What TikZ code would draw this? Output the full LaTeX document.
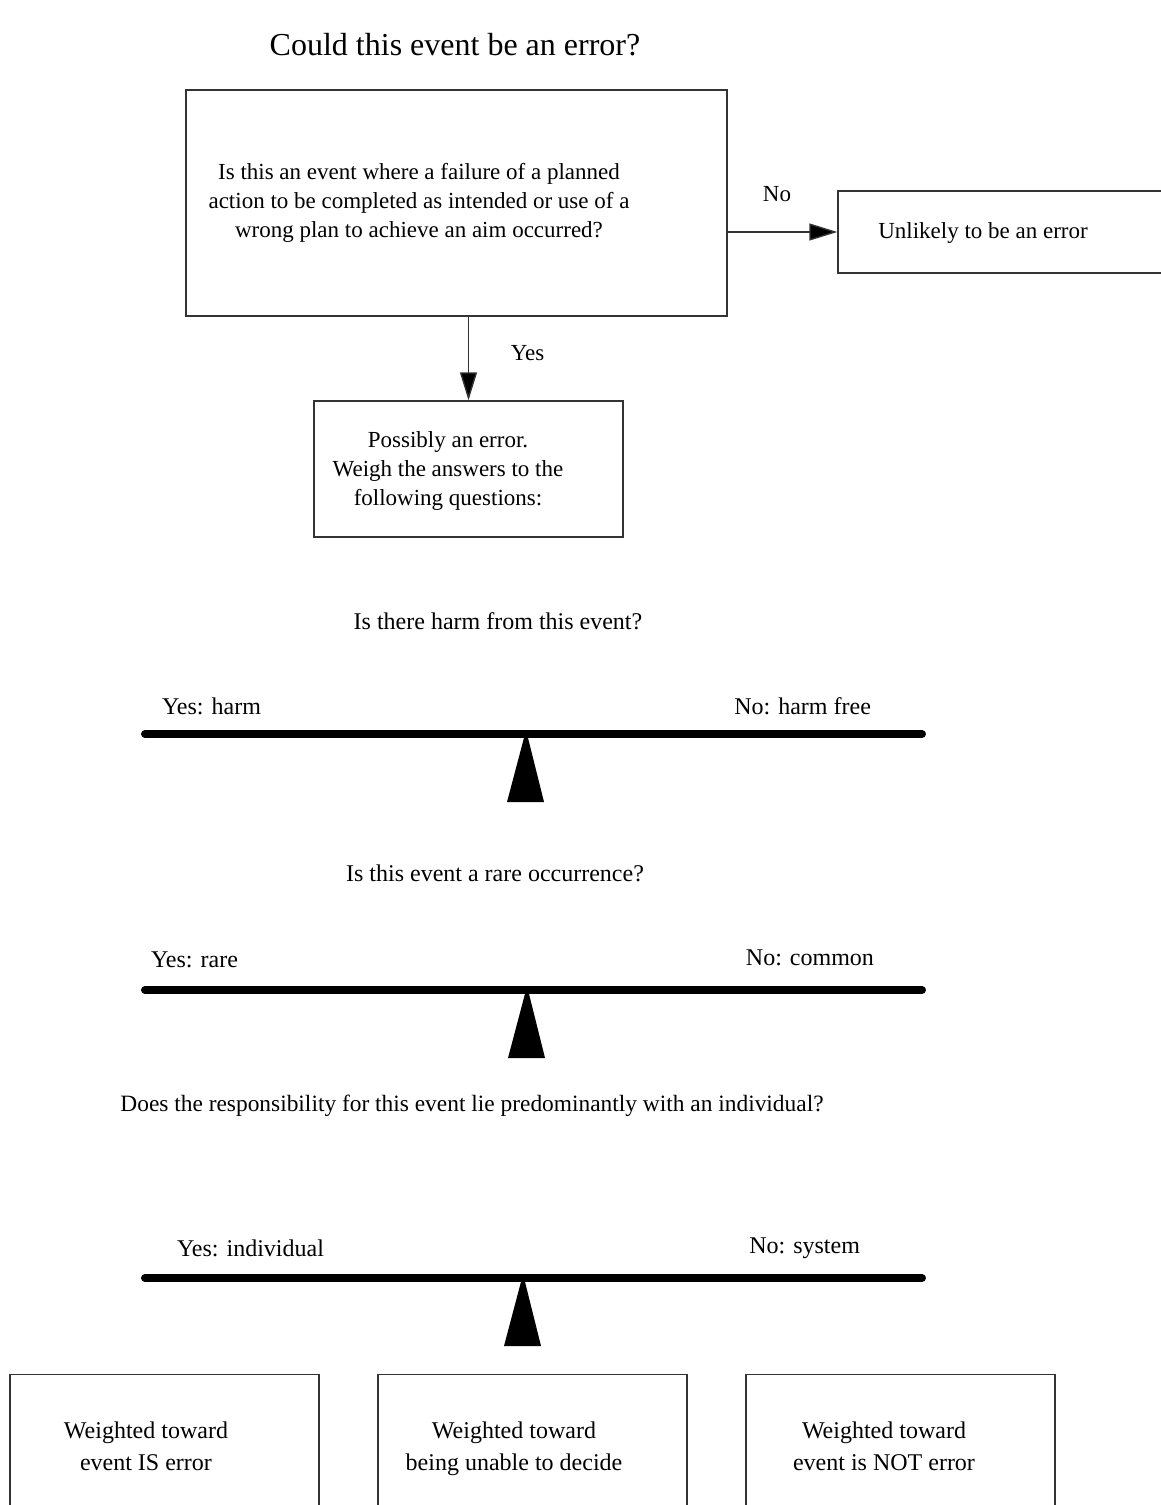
\documentclass[tikz,border=0pt]{standalone}
\usepackage{fontspec}
\setmainfont{Liberation Serif}
\usetikzlibrary{arrows.meta, positioning}

\begin{document}
\begin{tikzpicture}[
    x=0.5pt, y=-0.5pt,
    box/.style={rectangle, draw=black!80, line width=0.7pt, inner sep=0pt},
    boxtext/.style={align=center, font=\fontsize{11.5}{14.5}\selectfont},
    question/.style={font=\fontsize{12}{14}\selectfont},
    side/.style={font=\fontsize{12}{14}\selectfont},
    result/.style={align=center, font=\fontsize{12}{16}\selectfont},
    beam/.style={line width=4pt, line cap=round},
    arrow/.style={-{Triangle[length=14pt, width=8.5pt, fill=black]}, line width=0.7pt, draw=black!80}
]
    \clip (0,0) rectangle (1161,1505);

    \node[font=\fontsize{16}{19}\selectfont] (title) at (455,45) {Could this event be an error?};

    % boxes
    \node[box, minimum width=270.5pt, minimum height=113pt] (event) at (456.5,203) {};
    \node[boxtext] (eventtext) at (419,203) {Is this an event where a failure of a planned\\action to be completed as intended or use of a\\wrong plan to achieve an aim occurred?};
    \node[box, minimum width=181pt, minimum height=41pt] (unlikely) at (1019,232) {};
    \node[boxtext] (unlikelytext) at (983,233) {Unlikely to be an error};
    \node[box, minimum width=154.5pt, minimum height=68pt] (possibly) at (468.5,469) {};
    \node[boxtext] (possiblytext) at (448,471) {Possibly an error.\\Weigh the answers to the\\following questions:};

    \draw[arrow] (unlikely.west -| event.east) -- node[pos=0.45, above=11.5pt, font=\fontsize{11.5}{14}\selectfont]{No} (unlikely.west);
    \draw[arrow] (event.south -| possibly.north) -- node[pos=0.44, right=17.5pt, font=\fontsize{11.5}{14}\selectfont]{Yes} (possibly.north);

    % see-saws
    \node[question] (harm) at (498,621) {Is there harm from this event?};
    \node[question] (rare) at (495,873) {Is this event a rare occurrence?};
    \node[question, font=\fontsize{11.7}{14}\selectfont] (indiv) at (472,1106) {Does the responsibility for this event lie predominantly with an individual?};

    \foreach \y/\x in {734/526, 990/527, 1278/523} {
        \draw[beam] (145,\y) -- (922,\y);
        \fill (\x-1,\y) -- (\x+1,\y) -- (\x+18,\y+68) -- (\x-19,\y+68) -- cycle;
    }

    \node[side, anchor=west] (harmyes) at (155,706) {Yes: harm};
    \node[side, anchor=east] (harmno) at (878,706) {No: harm free};
    \node[side, anchor=west] (rareyes) at (144,960) {Yes: rare};
    \node[side, anchor=east] (rareno) at (881,958) {No: common};
    \node[side, anchor=west] (indivyes) at (170,1248) {Yes: individual};
    \node[side, anchor=east] (indivno) at (867,1248) {No: system};

    % outcomes
    \node[box, minimum width=154.5pt, minimum height=100pt, anchor=north] (iserror) at (164.5,1374) {};
    \node[box, minimum width=154.5pt, minimum height=100pt, anchor=north] (undecided) at (532.5,1374) {};
    \node[box, minimum width=154.5pt, minimum height=100pt, anchor=north] (noterror) at (900.5,1374) {};
    \node[result] (iserrortext) at (146,1446) {Weighted toward\\event IS error};
    \node[result] (undecidedtext) at (514,1449) {Weighted toward\\being unable to decide};
    \node[result] (noterrortext) at (884,1446) {Weighted toward\\event is NOT error};
\end{tikzpicture}
\end{document}
